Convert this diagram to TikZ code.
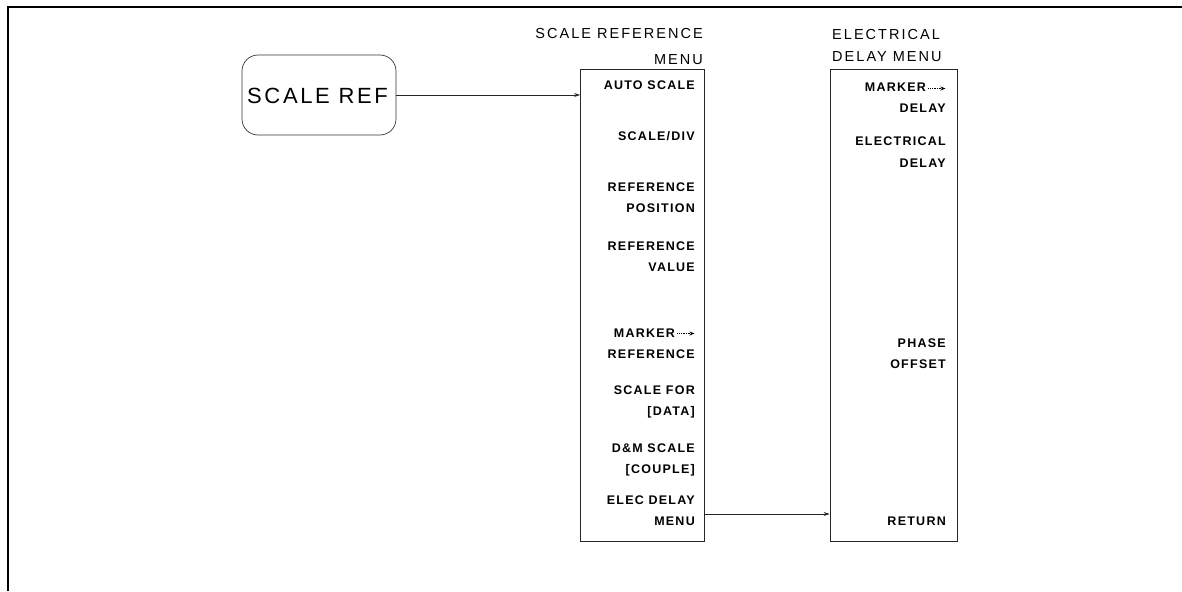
\documentclass[tikz,border=0pt]{standalone}
\usepackage{fontspec}
\setmainfont{Liberation Sans}
\usetikzlibrary{arrows.meta,positioning}
\newfontfamily\keyfont[LetterSpace=10]{Liberation Sans}
\newfontfamily\titlefont[LetterSpace=14]{Liberation Sans}
\newfontfamily\hardfont[LetterSpace=12]{Liberation Sans}
\newcommand\mkarrow{\tikz[baseline=-3.5pt]\draw[-{Stealth[length=5pt,width=4pt]},
  densely dotted,line width=0.7pt] (0pt,0pt) -- (17pt,0pt);}

\begin{document}
\begin{tikzpicture}[
    x=1pt,y=-1pt,
    menubox/.style={draw=black!85,line width=0.7pt,inner sep=0pt,
      minimum width=124pt,minimum height=472pt},
    hardkey/.style={draw=black!80,line width=0.7pt,rounded corners=16pt,
      minimum width=154pt,minimum height=80pt,inner sep=0pt},
    softkey/.style={anchor=base east,inner sep=0pt,align=right,
      font=\keyfont\bfseries\fontsize{12.5}{21}\selectfont},
    menutitle/.style={inner sep=0pt,font=\titlefont\fontsize{14.5}{22}\selectfont},
    arr/.style={-{Stealth[length=6pt,width=4pt]},line width=0.7pt,draw=black!85}
  ]
    \useasboundingbox (0,0) rectangle (1182,591);
    % frame
    \draw[line width=1.6pt] (8,591) -- (8,7) -- (1182,7);

    % hardkey
    \node[hardkey] (sref) at (319,95) {};
    \node[anchor=base west,inner sep=0pt,
      font=\hardfont\fontsize{22}{26}\selectfont] (sreflbl) at (247,103) {SCALE REF};

    % scale reference menu
    \node[menubox] (srm) at (642.5,305.5) {};
    \node[menutitle,anchor=base east,align=right] (srmt) at (703,39) {SCALE REFERENCE};
    \node[menutitle,anchor=base east] (srmt2) at (703,65) {MENU};
    \node[softkey] (autos) at (695,90) {AUTO SCALE};
    \node[softkey] (sdiv) at (695,140) {SCALE/DIV};
    \node[softkey] (rpos) at (695,212) {REFERENCE\\POSITION};
    \node[softkey] (rval) at (695,271) {REFERENCE\\VALUE};
    \node[softkey] (mref) at (695,358) {MARKER\,\mkarrow\\REFERENCE};
    \node[softkey] (sdata) at (695,415) {SCALE FOR\\{[DATA]}};
    \node[softkey] (dmcpl) at (695,473) {D\&M SCALE\\{[COUPLE]}};
    \node[softkey] (edmenu) at (695,525) {ELEC DELAY\\MENU};

    % electrical delay menu
    \node[menubox,minimum width=127pt] (edm) at (893.5,305.5) {};
    \node[menutitle,anchor=base west] (edmt) at (832,40) {ELECTRICAL};
    \node[menutitle,anchor=base west] (edmt2) at (832,62) {DELAY MENU};
    \node[softkey] (mdly) at (946,113) {MARKER\,\mkarrow\\DELAY};
    \node[softkey] (edly) at (946,167) {ELECTRICAL\\DELAY};
    \node[softkey] (phoff) at (946,368) {PHASE\\OFFSET};
    \node[softkey] (rtn) at (946,525) {RETURN};

    \draw[arr] (sref.east) -- (sref.east -| srm.west);
    \draw[arr] (srm.east |- 0,514) -- (edm.west |- 0,514);
  \end{tikzpicture}
\end{document}
